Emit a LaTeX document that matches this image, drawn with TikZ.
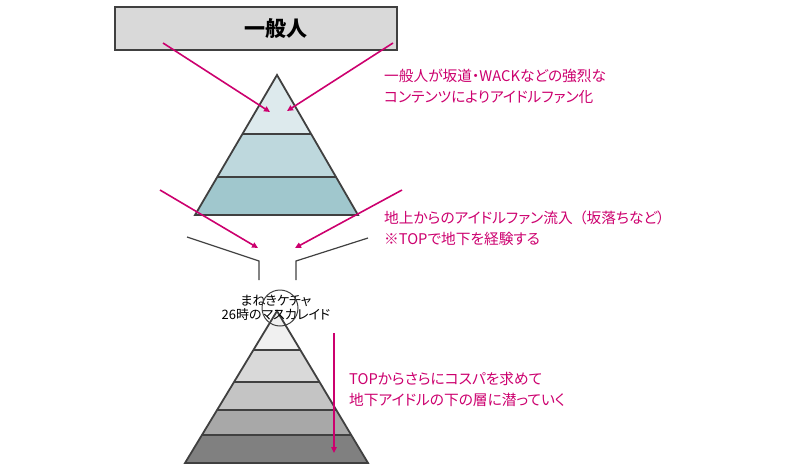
\documentclass[tikz,border=0pt]{standalone}
\usepackage{fontspec}
\setmainfont{Noto Sans CJK JP}[RawFeature=+palt]
\newfontfamily\cjk{Noto Sans CJK JP}[RawFeature=+palt]
\usetikzlibrary{arrows.meta}
\definecolor{mag}{RGB}{204,0,110}
\definecolor{edge}{RGB}{64,64,64}
\definecolor{boxfill}{RGB}{217,217,217}
\definecolor{ta}{RGB}{221,234,237}
\definecolor{tb}{RGB}{190,216,221}
\definecolor{tc}{RGB}{160,199,205}
\definecolor{ga}{RGB}{240,240,240}
\definecolor{gb}{RGB}{217,217,217}
\definecolor{gc}{RGB}{196,196,196}
\definecolor{gd}{RGB}{168,168,168}
\definecolor{ge}{RGB}{128,128,128}
\tikzset{
  magarrow/.style={draw=mag, line width=1.6pt, -{Triangle[length=6pt,width=5.5pt]}},
  pyredge/.style={draw=edge, line width=1.8pt, line join=miter},
  funnel/.style={draw=edge, line width=1.2pt},
  note/.style={text=mag, font=\cjk\fontsize{14.7}{21}\selectfont, align=left, anchor=west, inner sep=0pt},
}
\begin{document}
\begin{tikzpicture}[x=1pt,y=-1pt]
\useasboundingbox (0,0) rectangle (800,471);
% top box
\node[draw=edge, line width=1.8pt, fill=boxfill, minimum width=282pt, minimum height=43pt, inner sep=0pt] (ippan) at (256,28.5) {};
\node[font=\cjk\bfseries\fontsize{21}{21}\selectfont, inner sep=0pt] (ippanlabel) at (276,29) {一般人};
% upper pyramid
\coordinate (ua) at (277,75);
\coordinate (ul) at (195,215);
\coordinate (ur) at (358,215);
\begin{scope}
\clip (ua) -- (ul) -- (ur) -- cycle;
\fill[ta] (150,60) rectangle (400,134);
\fill[tb] (150,134) rectangle (400,177);
\fill[tc] (150,177) rectangle (400,220);
\draw[pyredge] (150,134) -- (400,134);
\draw[pyredge] (150,177) -- (400,177);
\end{scope}
\draw[pyredge] (ua) -- (ul) -- (ur) -- cycle;
% lower pyramid
\coordinate (la) at (277,311);
\coordinate (ll) at (185,463);
\coordinate (lr) at (368,463);
\begin{scope}
\clip (la) -- (ll) -- (lr) -- cycle;
\fill[ga] (150,300) rectangle (400,350);
\fill[gb] (150,350) rectangle (400,382);
\fill[gc] (150,382) rectangle (400,410);
\fill[gd] (150,410) rectangle (400,435);
\fill[ge] (150,435) rectangle (400,470);
\foreach \yy in {350,382,410,435} \draw[pyredge] (150,\yy) -- (400,\yy);
\end{scope}
\draw[pyredge] (la) -- (ll) -- (lr) -- cycle;
% funnel
\coordinate (fl1) at (187,237);
\coordinate (fl2) at (259,261);
\coordinate (fl3) at (259,280);
\coordinate (fr1) at (368,238);
\coordinate (fr2) at (296,261);
\coordinate (fr3) at (296,280);
\draw[funnel] (fl1) -- (fl2) -- (fl3);
\draw[funnel] (fr1) -- (fr2) -- (fr3);
% labels
\node[font=\cjk\fontsize{13}{14.5}\selectfont, inner sep=0pt, align=center] (idol) at (276,308) {まねきケチャ\\26時のマスカレイド};
\node[draw=edge, line width=1pt, circle, minimum size=36pt, inner sep=0pt] (ring) at (280,308) {};
% magenta arrows
\coordinate (a1s) at (163,43);
\coordinate (a1e) at (270,112);
\coordinate (a2s) at (393,43);
\coordinate (a2e) at (287,111);
\coordinate (b1s) at (160,190);
\coordinate (b1e) at (258,248);
\coordinate (b2s) at (402,190);
\coordinate (b2e) at (295,248);
\coordinate (c1s) at (334,333);
\coordinate (c1e) at (334,453);
\draw[magarrow] (a1s) -- (a1e);
\draw[magarrow] (a2s) -- (a2e);
\draw[magarrow] (b1s) -- (b1e);
\draw[magarrow] (b2s) -- (b2e);
\draw[magarrow] (c1s) -- (c1e);
% notes
\node[note] (n1) at (384,86) {一般人が坂道・WACKなどの強烈な\\コンテンツによりアイドルファン化};
\node[note] (n2) at (384,228) {地上からのアイドルファン流入\hspace{0.45em}（坂落ちなど）\\※TOPで地下を経験する};
\node[note] (n3) at (349,389) {TOPからさらにコスパを求めて\\地下アイドルの下の層に潜っていく};
\end{tikzpicture}
\end{document}
